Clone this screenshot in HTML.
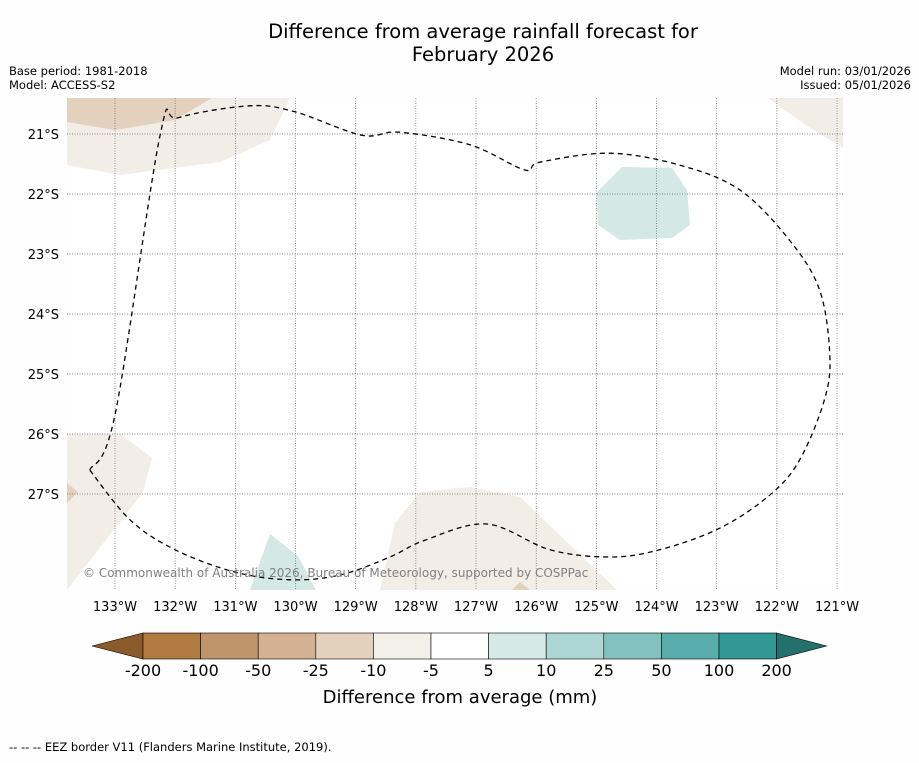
<!DOCTYPE html>
<html><head><meta charset="utf-8"><style>
body{margin:0;background:#fefefe;font-family:"Liberation Sans","DejaVu Sans",sans-serif;}
svg text{font-family:"DejaVu Sans","Liberation Sans",sans-serif;}
</style></head><body>
<svg id="c" width="919" height="758" xmlns="http://www.w3.org/2000/svg">
<text x="483" y="38" font-size="19.5" text-anchor="middle">Difference from average rainfall forecast for</text>
<text x="483" y="61" font-size="19.5" text-anchor="middle">February 2026</text>
<text x="9" y="75" font-size="11.5">Base period: 1981-2018</text>
<text x="9" y="89" font-size="11.5">Model: ACCESS-S2</text>
<text x="911" y="75" font-size="11.5" text-anchor="end">Model run: 03/01/2026</text>
<text x="911" y="89" font-size="11.5" text-anchor="end">Issued: 05/01/2026</text>
<defs><clipPath id="mapclip"><rect x="67" y="98" width="776" height="492"/></clipPath></defs>
<g clip-path="url(#mapclip)">
<rect x="67" y="98" width="776" height="492" fill="#fff"/>
<g>
<polygon points="67,98 67,165 120,175 220,162 270,140 290,98" fill="#f2ede6"/>
<polygon points="67,98 67,122 115,130 175,120 212,98" fill="#e3d0bd"/>
<polygon points="768,98 810,128 843,148 843,98" fill="#f2ede6"/>
<polygon points="67,434 120,434 152,458 143,492 67,590" fill="#f2ede6"/>
<polygon points="67,483 78,492 67,503" fill="#e3d0bd"/>
<polygon points="380,590 395,523 420,492 470,487 520,497 570,545 617,590" fill="#f2ede6"/>
<polygon points="512,590 520,582 530,590" fill="#e3d0bd"/>
<polygon points="597,192 622,167 672,168 687,190 690,225 672,238 620,240 598,225" fill="#d4e8e6"/>
<polygon points="250,590 270,534 298,556 316,590" fill="#d4e8e6"/>
</g>
<g id="grid"></g>
<path id="eez" fill="none" stroke="#000" stroke-width="1.3" stroke-dasharray="5,4"/>
<text x="83" y="577" font-size="12" fill="#808080" font-family="Liberation Sans,sans-serif">© Commonwealth of Australia 2026, Bureau of Meteorology, supported by COSPPac</text>
</g>
<g id="ticks"></g>
<g id="cbar"></g>
<text x="460" y="703" font-size="18" text-anchor="middle">Difference from average (mm)</text>
<text x="9" y="751" font-size="11.5">--  --  -- EEZ border V11 (Flanders Marine Institute, 2019).</text>
</svg>
<script>
const lonTicks=[-133,-132,-131,-130,-129,-128,-127,-126,-125,-124,-123,-122,-121];
const latTicks=[-21,-22,-23,-24,-25,-26,-27];
const eezLon=[-133.42,-133.0,-132.25,-131.95,-130.76,-130.01,-128.9,-128.27,-127.1,-126.19,-125.94,-124.78,-123.61,-122.62,-121.79,-121.29,-121.12,-121.21,-121.62,-122.12,-122.95,-123.95,-124.78,-125.77,-126.82,-127.85,-128.43,-129.26,-130.09,-131.01,-132.0,-132.75,-133.42];
const eezLat=[-26.6,-25.68,-21.02,-20.73,-20.53,-20.63,-21.02,-20.97,-21.18,-21.6,-21.47,-21.32,-21.52,-21.93,-22.77,-23.6,-24.68,-25.43,-26.43,-27.02,-27.57,-27.93,-28.05,-27.93,-27.5,-27.77,-28.05,-28.35,-28.43,-28.3,-27.93,-27.43,-26.6];
const cbLabels=["-200","-100","-50","-25","-10","-5","5","10","25","50","100","200"];
const cbColors=["#b07a40","#c1956b","#d4b192","#e3d0bd","#f3efe9","#ffffff","#d5e9e7","#acd7d5","#81c1be","#58adaa","#329895"];
const cbLow="#8c5a2b", cbHigh="#24706c";
const NS="http://www.w3.org/2000/svg";
const X=lon=>115+(lon+133)*60.17, Y=lat=>134+(-21-lat)*60;
function mk(t,a,p){const e=document.createElementNS(NS,t);for(const k in a)e.setAttribute(k,a[k]);p.appendChild(e);return e;}
const grid=document.getElementById('grid'),ticks=document.getElementById('ticks');
lonTicks.forEach(l=>{
 const g=mk('line',{x1:X(l),x2:X(l),y1:98,y2:590,stroke:'#666','stroke-width':0.7,'stroke-dasharray':'1,1.5'},grid);
 
 
 const t=mk('text',{x:X(l),y:611,'font-size':13,'text-anchor':'middle'},ticks);t.textContent=(-l)+'°W';
 
 
});
latTicks.forEach(l=>{
 const g=mk('line',{x1:67,x2:843,y1:Y(l),y2:Y(l),stroke:'#666','stroke-width':0.7,'stroke-dasharray':'1,1.5'},grid);
 
 
 const t=mk('text',{x:59,y:Y(l)+5,'font-size':13,'text-anchor':'end'},ticks);t.textContent=(-l)+'°S';
 
 
});
(function(){
 const P=eezLon.map((l,i)=>[X(l),Y(eezLat[i])]);const n=P.length;
 let d='M'+P[0][0].toFixed(1)+','+P[0][1].toFixed(1);
 for(let i=0;i<n-1;i++){
  const p0=P[Math.max(i-1,0)],p1=P[i],p2=P[i+1],p3=P[Math.min(i+2,n-1)];
  const c1=[p1[0]+(p2[0]-p0[0])/6,p1[1]+(p2[1]-p0[1])/6],c2=[p2[0]-(p3[0]-p1[0])/6,p2[1]-(p3[1]-p1[1])/6];
  d+='C'+c1.map(v=>v.toFixed(1)).join(',')+' '+c2.map(v=>v.toFixed(1)).join(',')+' '+p2.map(v=>v.toFixed(1)).join(',');
 }
 document.getElementById('eez').setAttribute('d',d);
})();
const cb=document.getElementById('cbar');const x0=143,w=57.6,y0=633,h=26;
const lt=mk('polygon',{points:`92,${y0+h/2} ${x0},${y0} ${x0},${y0+h}`,fill:cbLow,stroke:'#000','stroke-width':0.6},cb);


cbColors.forEach((c,i)=>{const r=mk('rect',{x:x0+i*w,y:y0,width:w,height:h,fill:c,stroke:'#000','stroke-width':0.6},cb);
 
 });
const xe=x0+cbColors.length*w;
const rt=mk('polygon',{points:`${xe},${y0} ${xe+50},${y0+h/2} ${xe},${y0+h}`,fill:cbHigh,stroke:'#000','stroke-width':0.6},cb);


cbLabels.forEach((s,i)=>{const t=mk('text',{x:x0+i*w,y:676,'font-size':16,'text-anchor':'middle'},cb);t.textContent=s;
 
 });
</script>
</body></html>
